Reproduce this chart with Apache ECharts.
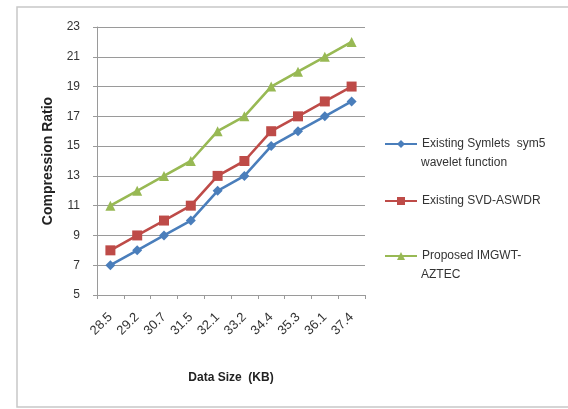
<!DOCTYPE html>
<html>
<head>
<meta charset="utf-8">
<script src="https://cdn.jsdelivr.net/npm/echarts@6/dist/echarts.min.js"></script>
<style>
  html, body { margin: 0; padding: 0; background: #fff; }
  #chart { width: 568px; height: 409px; }
</style>
</head>
<body>
<div id="chart"></div>
<script>
// Data size categories (KB)
const categories = ['28.5', '29.2', '30.7', '31.5', '32.1', '33.2', '34.4', '35.3', '36.1', '37.4'];

// Compression ratio per method
const symletsSym5 = [7, 8, 9, 10, 12, 13, 15, 16, 17, 18];
const svdAswdr = [8, 9, 10, 11, 13, 14, 16, 17, 18, 19];
const imgwtAztec = [11, 12, 13, 14, 16, 17, 19, 20, 21, 22];

// Series names, split into the lines shown in the legend
const legendLines = [
  ['Existing Symlets  sym5', 'wavelet function'],
  ['Existing SVD-ASWDR'],
  ['Proposed IMGWT-', 'AZTEC']
];
const seriesNames = legendLines.map(l => l.join(' '));

const fontFamily = '"Liberation Sans", "DejaVu Sans", sans-serif';
const chart = echarts.init(document.getElementById('chart'), null, { renderer: 'canvas' });

const legendLeft = 384;
const legendTextX = 421;
const legendFirstLineY = [143, 200, 255];
const lineStep = 20;

function legendAt(i) {
  return {
    data: [seriesNames[i]],
    left: legendLeft,
    top: legendFirstLineY[i] - 5,
    padding: 0,
    itemWidth: 32,
    itemHeight: 10,
    formatter: () => legendLines[i][0],
    textStyle: { fontFamily, fontSize: 12, color: '#333' }
  };
}

// Continuation lines of the wrapped legend entries
const legendExtra = [];
legendLines.forEach((lines, i) => {
  lines.slice(1).forEach((txt, j) => {
    legendExtra.push({
      type: 'text', silent: true,
      x: legendTextX, y: legendFirstLineY[i] + lineStep * (j + 1),
      style: { text: txt, fontFamily, fontSize: 12, fill: '#333', verticalAlign: 'middle' }
    });
  });
});

function lineSeries(name, data, color, symbol, size) {
  return {
    name, type: 'line', data,
    symbol, symbolSize: size,
    lineStyle: { color, width: 2.6 },
    itemStyle: { color },
    emphasis: { disabled: true }
  };
}

chart.setOption({
  animation: false,
  backgroundColor: '#fff',
  graphic: [{
    type: 'rect', silent: true,
    shape: { x: 17, y: 7, width: 560, height: 400 },
    style: { fill: 'none', stroke: '#c8c8c8', lineWidth: 1.5 }
  }].concat(legendExtra),
  grid: { left: 97, right: 203, top: 27, bottom: 114 },
  legend: [legendAt(0), legendAt(1), legendAt(2)],
  xAxis: {
    type: 'category',
    data: categories,
    boundaryGap: true,
    name: 'Data Size  (KB)',
    nameLocation: 'middle',
    nameGap: 77,
    nameTextStyle: { fontFamily, fontSize: 12, fontWeight: 'bold', color: '#222' },
    axisLine: { lineStyle: { color: '#9a9a9a', width: 1 } },
    axisTick: { show: true, length: 4, lineStyle: { color: '#9a9a9a' } },
    axisLabel: { rotate: 45, fontFamily, fontSize: 13, color: '#333', margin: 20 }
  },
  yAxis: {
    type: 'value',
    min: 5, max: 23, interval: 2,
    name: 'Compression Ratio',
    nameLocation: 'middle',
    nameGap: 42,
    nameRotate: 90,
    nameTextStyle: { fontFamily, fontSize: 14, fontWeight: 'bold', color: '#222' },
    axisLine: { show: true, lineStyle: { color: '#9a9a9a', width: 1 } },
    axisTick: { show: true, length: 4, lineStyle: { color: '#9a9a9a' } },
    axisLabel: { fontFamily, fontSize: 12, color: '#333', margin: 17 },
    splitLine: { lineStyle: { color: '#9a9a9a', width: 1 } }
  },
  series: [
    lineSeries(seriesNames[0], symletsSym5, '#4a7ebb', 'diamond', 10),
    lineSeries(seriesNames[1], svdAswdr, '#be4b48', 'rect', 10),
    lineSeries(seriesNames[2], imgwtAztec, '#98b954', 'triangle', 10)
  ]
});
</script>
</body>
</html>
